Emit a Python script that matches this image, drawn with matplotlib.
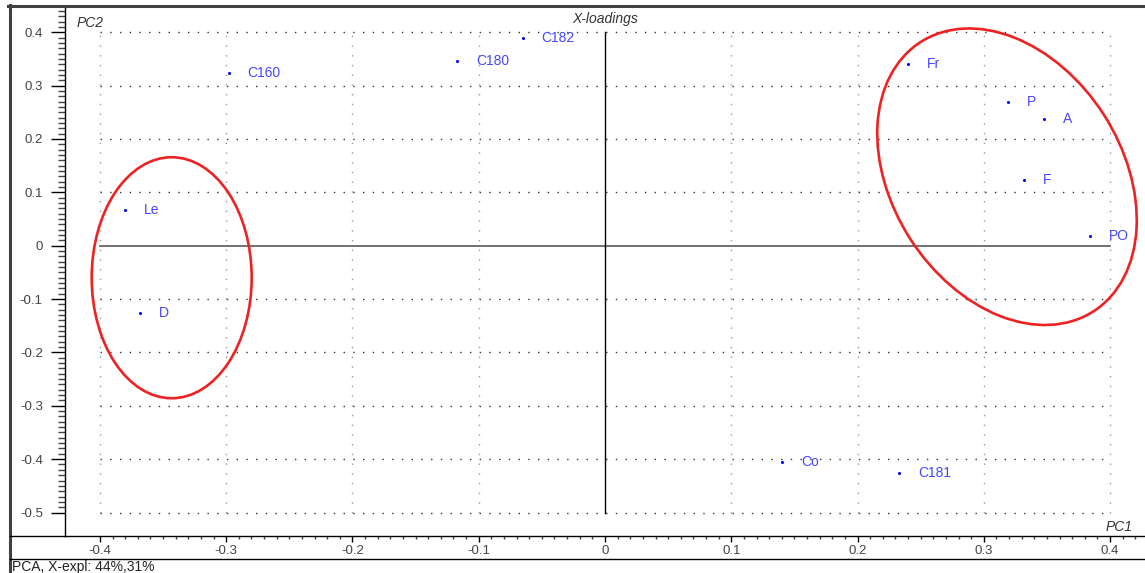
import numpy as np
import matplotlib
matplotlib.use("Agg")
from matplotlib import pyplot as plt
from matplotlib.patches import Ellipse
from matplotlib.lines import Line2D
from matplotlib.transforms import Affine2D
from matplotlib.ticker import FixedLocator

plt.rcParams['font.family'] = ['Liberation Sans', 'DejaVu Sans']

# loadings
names = ["C160", "C180", "C182", "Fr", "P", "A", "F", "PO", "Le", "D", "Co", "C181"]
pc1 = [-0.298, -0.117, -0.065, 0.240, 0.319, 0.348, 0.332, 0.384, -0.380, -0.368, 0.1405, 0.233]
pc2 = [0.324, 0.346, 0.390, 0.341, 0.269, 0.238, 0.123, 0.018, 0.0675, -0.126, -0.406, -0.425]

x_ticks = [-0.4, -0.3, -0.2, -0.1, 0, 0.1, 0.2, 0.3, 0.4]
y_ticks = [-0.5, -0.4, -0.3, -0.2, -0.1, 0, 0.1, 0.2, 0.3, 0.4]
x_tick_labels = ["-0.4", "-0.3", "-0.2", "-0.1", "0", "0.1", "0.2", "0.3", "0.4"]
y_tick_labels = ["-0.5", "-0.4", "-0.3", "-0.2", "-0.1", "0", "0.1", "0.2", "0.3", "0.4"]

# highlight rings: centre (data), semi axes (pixels), angle (deg)
ring_left = ((-0.3432, -0.060), 80, 120.5, 0)
ring_right = ((0.3184, 0.1293), 160, 115, -57.3)

W, H = 1145, 573
fig = plt.figure(figsize=(W / 100, H / 100), dpi=100)
fig.patch.set_facecolor('white')
ax = fig.add_axes([65 / W, 37 / H, 1080 / W, 528 / H])
xmin, xmax = -0.4277, 0.4277
ymin, ymax = -0.544, 0.4455
ax.set_xlim(xmin, xmax)
ax.set_ylim(ymin, ymax)

for s in ['top', 'right']:
    ax.spines[s].set_visible(False)
ax.spines['left'].set_linewidth(1.0)
ax.spines['bottom'].set_linewidth(1.0)

# dotted grid only inside the data range
for yv in y_ticks:
    if yv != 0:
        ax.plot([x_ticks[0], x_ticks[-1]], [yv, yv], color='#333333', lw=1.0,
                linestyle=(0, (1, 6)), zorder=1)
for xv in x_ticks:
    if xv != 0:
        ax.plot([xv, xv], [y_ticks[0], y_ticks[-1]], color='#999999', lw=1.0,
                linestyle=(0, (1, 6)), zorder=1)
ax.plot([x_ticks[0], x_ticks[-1]], [0, 0], color='#666666', lw=1.3, zorder=2)
ax.plot([0, 0], [y_ticks[0], y_ticks[-1]], color='black', lw=1.0, zorder=2)

ax.plot(pc1, pc2, linestyle='None', marker='o', ms=2.2, color='#0000ff', mec='none', zorder=4)
for n, xv, yv in zip(names, pc1, pc2):
    ax.annotate(n, (xv, yv), xytext=(13.5, 0), textcoords='offset points',
                va='center', ha='left', fontsize=10, color='#4646ff', zorder=5)

# rings drawn in pixel-like units so the rotation looks right on screen
sx = ax.bbox.width / (xmax - xmin)
sy = ax.bbox.height / (ymax - ymin)
for (cx, cy), a, b, ang in [ring_left, ring_right]:
    e = Ellipse((cx * sx, cy * sy), 2 * a, 2 * b, angle=ang, fill=False,
                edgecolor='#ee2222', lw=1.9,
                transform=Affine2D().scale(1 / sx, 1 / sy) + ax.transData, zorder=6)
    ax.add_patch(e)

ax.xaxis.set_major_locator(FixedLocator(x_ticks))
ax.yaxis.set_major_locator(FixedLocator(y_ticks))
ax.set_xticklabels(x_tick_labels)
ax.set_yticklabels(y_tick_labels)
ax.xaxis.set_minor_locator(FixedLocator(np.round(np.arange(-0.40, 0.425, 0.01), 2)))
ax.yaxis.set_minor_locator(FixedLocator(np.round(np.arange(-0.50, 0.445, 0.01), 2)))
ax.tick_params(axis='x', which='major', length=4.5, width=1, pad=2, labelsize=9.5, labelcolor='#444444')
ax.tick_params(axis='x', which='minor', length=2, width=1, color='#444444')
ax.tick_params(axis='y', which='major', length=10, width=1, pad=6, labelsize=9.5, labelcolor='#444444')
ax.tick_params(axis='y', which='minor', length=5, width=1, color='#444444')

ax.text(0, ymax - (23.5 - 8) / sy, "X-loadings", ha='center', va='baseline',
        style='italic', fontsize=10, color='#333333')
ax.text(xmin + (77 - 65) / sx, ymax - (26.7 - 8) / sy, "PC2", ha='left', va='baseline',
        style='italic', fontsize=10, color='#333333')
ax.text(xmin + (1133 - 65) / sx, ymax - (531 - 8) / sy, "PC1", ha='right', va='baseline',
        style='italic', fontsize=10, color='#333333')

# window frame pieces
def hline(y, x0, x1, lw, color):
    fig.add_artist(Line2D([x0 / W, x1 / W], [1 - y / H, 1 - y / H], lw=lw, color=color))

def vline(x, y0, y1, lw, color):
    fig.add_artist(Line2D([x / W, x / W], [1 - y0 / H, 1 - y1 / H], lw=lw, color=color))

hline(6.3, 8, W, 2.2, '#404040')
vline(10, 5, H, 2.2, '#404040')
hline(536, 10, 65, 1.0, 'black')
hline(559, 10, W, 1.0, 'black')
fig.text(12 / W, 1 - 571 / H, "PCA, X-expl: 44%,31%", ha='left', va='baseline',
         fontsize=10, color='#222222')

fig.savefig("out.png", dpi=100)
